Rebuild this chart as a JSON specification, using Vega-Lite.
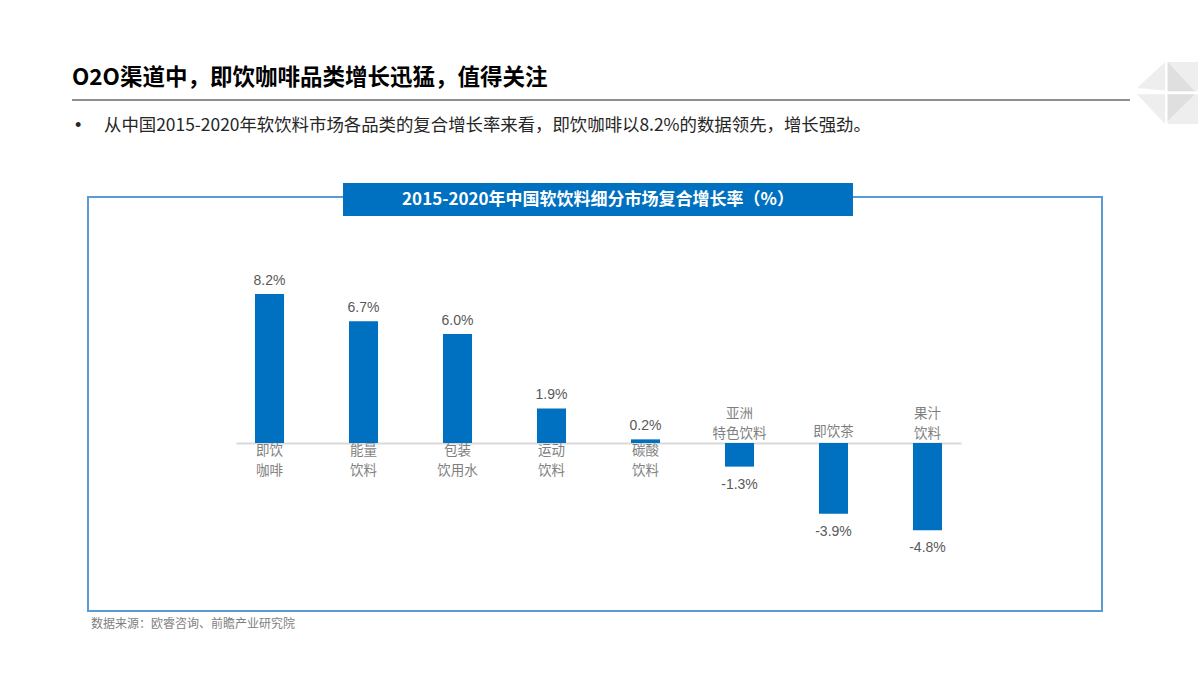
{
  "$schema": "https://vega.github.io/schema/vega-lite/v6.json",
  "width": 1014,
  "height": 414,
  "autosize": {"type": "none"},
  "padding": {"left": 88, "top": 197, "right": 98, "bottom": 64},
  "background": "#ffffff",
  "config": {
    "view": {"stroke": "#5B9BD5", "strokeWidth": 2},
    "font": "Noto Sans CJK SC"
  },
  "data": {"values": [
    {"cat": "即饮咖啡", "label": "即饮\n咖啡", "value": 8.2, "text": "8.2%"},
    {"cat": "能量饮料", "label": "能量\n饮料", "value": 6.7, "text": "6.7%"},
    {"cat": "包装饮用水", "label": "包装\n饮用水", "value": 6.0, "text": "6.0%"},
    {"cat": "运动饮料", "label": "运动\n饮料", "value": 1.9, "text": "1.9%"},
    {"cat": "碳酸饮料", "label": "碳酸\n饮料", "value": 0.2, "text": "0.2%"},
    {"cat": "亚洲特色饮料", "label": "亚洲\n特色饮料", "value": -1.3, "text": "-1.3%"},
    {"cat": "即饮茶", "label": "即饮茶", "value": -3.9, "text": "-3.9%"},
    {"cat": "果汁饮料", "label": "果汁\n饮料", "value": -4.8, "text": "-4.8%"}
  ]},
  "layer": [
    {
      "mark": {"type": "bar", "color": "#0070C0"},
      "encoding": {
        "x": {
          "field": "cat", "type": "nominal", "sort": null,
          "scale": {"type": "band", "range": [148, 873], "paddingInner": 0.691, "paddingOuter": 0.202},
          "axis": {"orient": "bottom", "offset": -168, "labels": false, "ticks": false, "title": null, "grid": false, "domainColor": "#d9d9d9", "domainWidth": 2}
        },
        "y": {"field": "value", "type": "quantitative", "scale": {"domain": [-9.246, 13.539], "nice": false, "zero": false}, "axis": null},
        "y2": {"datum": 0}
      }
    },
    {
      "mark": {"type": "text", "baseline": "bottom", "dy": -6, "font": "Liberation Sans", "fontSize": 14, "color": "#595959"},
      "encoding": {
        "x": {"field": "cat", "type": "nominal", "sort": null, "scale": {"type": "band", "range": [148, 873], "paddingInner": 0.691, "paddingOuter": 0.202}, "axis": null},
        "y": {"field": "value", "type": "quantitative", "scale": {"domain": [-9.246, 13.539], "nice": false, "zero": false}, "axis": null},
        "text": {"condition": {"test": "datum.value >= 0", "field": "text"}, "value": ""}
      }
    },
    {
      "mark": {"type": "text", "baseline": "top", "dy": 11, "font": "Liberation Sans", "fontSize": 14, "color": "#595959"},
      "encoding": {
        "x": {"field": "cat", "type": "nominal", "sort": null, "scale": {"type": "band", "range": [148, 873], "paddingInner": 0.691, "paddingOuter": 0.202}, "axis": null},
        "y": {"field": "value", "type": "quantitative", "scale": {"domain": [-9.246, 13.539], "nice": false, "zero": false}, "axis": null},
        "text": {"condition": {"test": "datum.value < 0", "field": "text"}, "value": ""}
      }
    },
    {
      "mark": {"type": "text", "baseline": "top", "dy": 1, "lineBreak": "\n", "lineHeight": 19.6, "font": "Noto Sans CJK SC", "fontSize": 13.5, "color": "#7f7f7f"},
      "encoding": {
        "x": {"field": "cat", "type": "nominal", "sort": null, "scale": {"type": "band", "range": [148, 873], "paddingInner": 0.691, "paddingOuter": 0.202}, "axis": null},
        "y": {"datum": 0, "type": "quantitative", "scale": {"domain": [-9.246, 13.539], "nice": false, "zero": false}, "axis": null},
        "text": {"condition": {"test": "datum.value >= 0", "field": "label"}, "value": ""}
      }
    },
    {
      "mark": {"type": "text", "baseline": "bottom", "dy": -21.6, "lineBreak": "\n", "lineHeight": 19.6, "font": "Noto Sans CJK SC", "fontSize": 13.5, "color": "#7f7f7f"},
      "encoding": {
        "x": {"field": "cat", "type": "nominal", "sort": null, "scale": {"type": "band", "range": [148, 873], "paddingInner": 0.691, "paddingOuter": 0.202}, "axis": null},
        "y": {"datum": 0, "type": "quantitative", "scale": {"domain": [-9.246, 13.539], "nice": false, "zero": false}, "axis": null},
        "text": {"condition": {"test": "datum.value < 0 && datum.cat != '即饮茶'", "field": "label"}, "value": ""}
      }
    },
    {
      "mark": {"type": "text", "baseline": "bottom", "dy": -4, "lineBreak": "\n", "lineHeight": 19.6, "font": "Noto Sans CJK SC", "fontSize": 13.5, "color": "#7f7f7f"},
      "encoding": {
        "x": {"field": "cat", "type": "nominal", "sort": null, "scale": {"type": "band", "range": [148, 873], "paddingInner": 0.691, "paddingOuter": 0.202}, "axis": null},
        "y": {"datum": 0, "type": "quantitative", "scale": {"domain": [-9.246, 13.539], "nice": false, "zero": false}, "axis": null},
        "text": {"condition": {"test": "datum.cat == '即饮茶'", "field": "label"}, "value": ""}
      }
    },
    {
      "data": {"values": [{"t": "O2O渠道中，即饮咖啡品类增长迅猛，值得关注"}]},
      "mark": {"type": "text", "align": "left", "baseline": "middle", "font": "Noto Sans CJK SC", "fontSize": 22.5, "fontWeight": "bold", "color": "#000000"},
      "encoding": {
        "x": {"datum": -0.0158, "type": "quantitative", "scale": {"domain": [0, 1], "nice": false, "zero": false}, "axis": null},
        "y": {"datum": 20.088, "type": "quantitative", "scale": {"domain": [-9.246, 13.539], "nice": false, "zero": false}, "axis": null},
        "text": {"field": "t"}
      }
    },
    {
      "data": {"values": [{"t": "•"}]},
      "mark": {"type": "text", "align": "left", "baseline": "middle", "font": "Liberation Sans", "fontSize": 18, "color": "#262626"},
      "encoding": {
        "x": {"datum": -0.0128, "type": "quantitative", "scale": {"domain": [0, 1], "nice": false, "zero": false}, "axis": null},
        "y": {"datum": 17.447, "type": "quantitative", "scale": {"domain": [-9.246, 13.539], "nice": false, "zero": false}, "axis": null},
        "text": {"field": "t"}
      }
    },
    {
      "data": {"values": [{"t": "从中国2015-2020年软饮料市场各品类的复合增长率来看，即饮咖啡以8.2%的数据领先，增长强劲。"}]},
      "mark": {"type": "text", "align": "left", "baseline": "middle", "font": "Noto Sans CJK SC", "fontSize": 17.4, "color": "#262626"},
      "encoding": {
        "x": {"datum": 0.0158, "type": "quantitative", "scale": {"domain": [0, 1], "nice": false, "zero": false}, "axis": null},
        "y": {"datum": 17.447, "type": "quantitative", "scale": {"domain": [-9.246, 13.539], "nice": false, "zero": false}, "axis": null},
        "text": {"field": "t"}
      }
    },
    {
      "data": {"values": [{"k": 1}]},
      "mark": {"type": "rule", "color": "#8f8f8f", "strokeWidth": 2},
      "encoding": {
        "x": {"datum": -0.0158, "type": "quantitative", "scale": {"domain": [0, 1], "nice": false, "zero": false}, "axis": null},
        "x2": {"datum": 1.0276},
        "y": {"datum": 18.877, "type": "quantitative", "scale": {"domain": [-9.246, 13.539], "nice": false, "zero": false}, "axis": null}
      }
    },
    {
      "data": {"values": [{"k": 1}]},
      "mark": {"type": "point", "filled": true, "opacity": 1, "color": "#eeeeee", "size": 3844, "shape": "M-0.97,-0.16L-0.06,-1L-0.06,-0.08Z M0.02,-1L1,-1L1,-0.06L0.02,-0.06Z M-0.97,0.04L-0.06,0.04L-0.06,1Z M0.02,0.04L1,0.04L1,1L0.02,1Z"},
      "encoding": {
        "x": {"datum": 1.0641, "type": "quantitative", "scale": {"domain": [0, 1], "nice": false, "zero": false}, "axis": null},
        "y": {"datum": 19.263, "type": "quantitative", "scale": {"domain": [-9.246, 13.539], "nice": false, "zero": false}, "axis": null}
      }
    },
    {
      "data": {"values": [{"k": 1}]},
      "mark": {"type": "point", "filled": true, "opacity": 1, "color": "#dfdfdf", "size": 3844, "shape": "M0.02,-1L0.02,-0.06L0.9,-0.06Z M0.02,0.04L0.9,0.04L0.02,0.9Z"},
      "encoding": {
        "x": {"datum": 1.0641, "type": "quantitative", "scale": {"domain": [0, 1], "nice": false, "zero": false}, "axis": null},
        "y": {"datum": 19.263, "type": "quantitative", "scale": {"domain": [-9.246, 13.539], "nice": false, "zero": false}, "axis": null}
      }
    },
    {
      "data": {"values": [{"k": 1}]},
      "mark": {"type": "rect", "color": "#0070C0"},
      "encoding": {
        "x": {"datum": 0.2515, "type": "quantitative", "scale": {"domain": [0, 1], "nice": false, "zero": false}, "axis": null},
        "x2": {"datum": 0.7544},
        "y": {"datum": 14.31, "type": "quantitative", "scale": {"domain": [-9.246, 13.539], "nice": false, "zero": false}, "axis": null},
        "y2": {"datum": 12.493}
      }
    },
    {
      "data": {"values": [{"t": "2015-2020年中国软饮料细分市场复合增长率（%）"}]},
      "mark": {"type": "text", "align": "center", "baseline": "middle", "font": "Noto Sans CJK SC", "fontSize": 17, "fontWeight": "bold", "color": "#ffffff"},
      "encoding": {
        "x": {"datum": 0.503, "type": "quantitative", "scale": {"domain": [0, 1], "nice": false, "zero": false}, "axis": null},
        "y": {"datum": 13.374, "type": "quantitative", "scale": {"domain": [-9.246, 13.539], "nice": false, "zero": false}, "axis": null},
        "text": {"field": "t"}
      }
    },
    {
      "data": {"values": [{"t": "数据来源：欧睿咨询、前瞻产业研究院"}]},
      "mark": {"type": "text", "align": "left", "baseline": "middle", "font": "Noto Sans CJK SC", "fontSize": 12, "color": "#7f7f7f"},
      "encoding": {
        "x": {"datum": 0.003, "type": "quantitative", "scale": {"domain": [0, 1], "nice": false, "zero": false}, "axis": null},
        "y": {"datum": -9.961, "type": "quantitative", "scale": {"domain": [-9.246, 13.539], "nice": false, "zero": false}, "axis": null},
        "text": {"field": "t"}
      }
    }
  ],
  "resolve": {"scale": {"x": "independent"}}
}
